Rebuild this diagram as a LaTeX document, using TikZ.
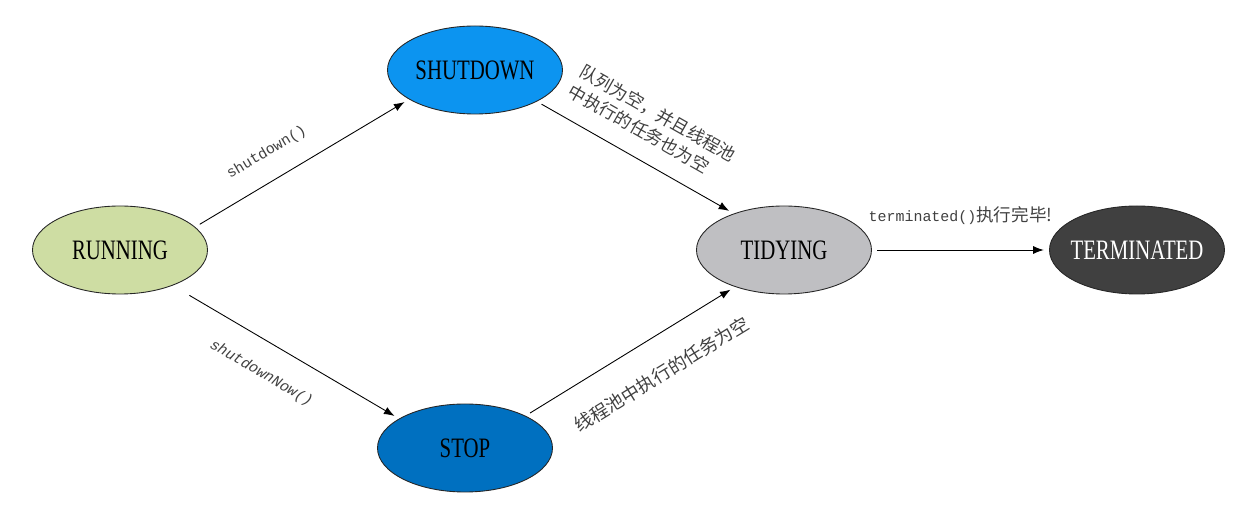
\documentclass[tikz,border=0pt]{standalone}
\usepackage{fontspec}
\setmainfont{Liberation Serif}
\setmonofont{Liberation Mono}
\newfontfamily\statefont[FakeStretch=0.74]{Liberation Serif}
\newfontfamily\cjk{Noto Sans CJK SC}
\usepackage{tikz}
\usetikzlibrary{arrows.meta,positioning,shapes.geometric}
\definecolor{runcol}{RGB}{206,221,163}
\definecolor{sdcol}{RGB}{12,148,240}
\definecolor{stopcol}{RGB}{0,112,192}
\definecolor{tidycol}{RGB}{191,191,194}
\definecolor{termcol}{RGB}{64,64,64}

\begin{document}
\begin{tikzpicture}[
  on grid,
  state/.style={ellipse, draw=black!85, line width=0.5pt, minimum width=3.5cm, minimum height=1.76cm, inner sep=0pt, font=\statefont\fontsize{16}{18}\selectfont},
  arr/.style={-{Latex[length=6pt,width=4.5pt]}, line width=0.5pt, shorten <=3pt, shorten >=3pt},
  lbl/.style={sloped, font=\ttfamily\fontsize{8.5}{10}\selectfont, text=black!75},
  cn/.style={sloped, font=\cjk\fontsize{10}{13}\selectfont, text=black!75, align=left}
]
\useasboundingbox (-2.4,-5.54) rectangle (22.7,5.0);
\node[state, fill=runcol] (running) {RUNNING};
\node[state, fill=sdcol, above right=3.6cm and 7.1cm of running] (shutdown) {SHUTDOWN};
\node[state, fill=stopcol, below right=3.96cm and 6.9cm of running] (stop) {STOP};
\node[state, fill=tidycol, right=13.28cm of running] (tidying) {TIDYING};
\node[state, fill=termcol, text=white, right=7.06cm of tidying] (terminated) {\makebox[2cm][c]{TERMINATED}};
\draw[arr] (running.17) -- node[lbl, pos=0.40, above=8pt] {shutdown()} (shutdown.204);
\draw[arr, shorten <=11pt] (running.-34) -- node[lbl, pos=0.46, below=10pt, font=\ttfamily\itshape\fontsize{8.5}{10}\selectfont] {shutdownNow()} (stop.156);
\draw[arr] (shutdown.-27) -- node[cn, pos=0.49, above=7pt] {队列为空，并且线程池\\中执行的任务也为空} (tidying.144);
\draw[arr] (stop.28) -- node[cn, pos=0.56, below=12pt, font=\cjk\fontsize{10.4}{12}\selectfont] {线程池中执行的任务为空} (tidying.217);
\draw[arr] (tidying) -- node[above=11pt, text=black!75] {\ttfamily\fontsize{8.5}{10}\selectfont terminated()\cjk\fontsize{10}{11}\selectfont 执行完毕!} (terminated);
\end{tikzpicture}
\end{document}
